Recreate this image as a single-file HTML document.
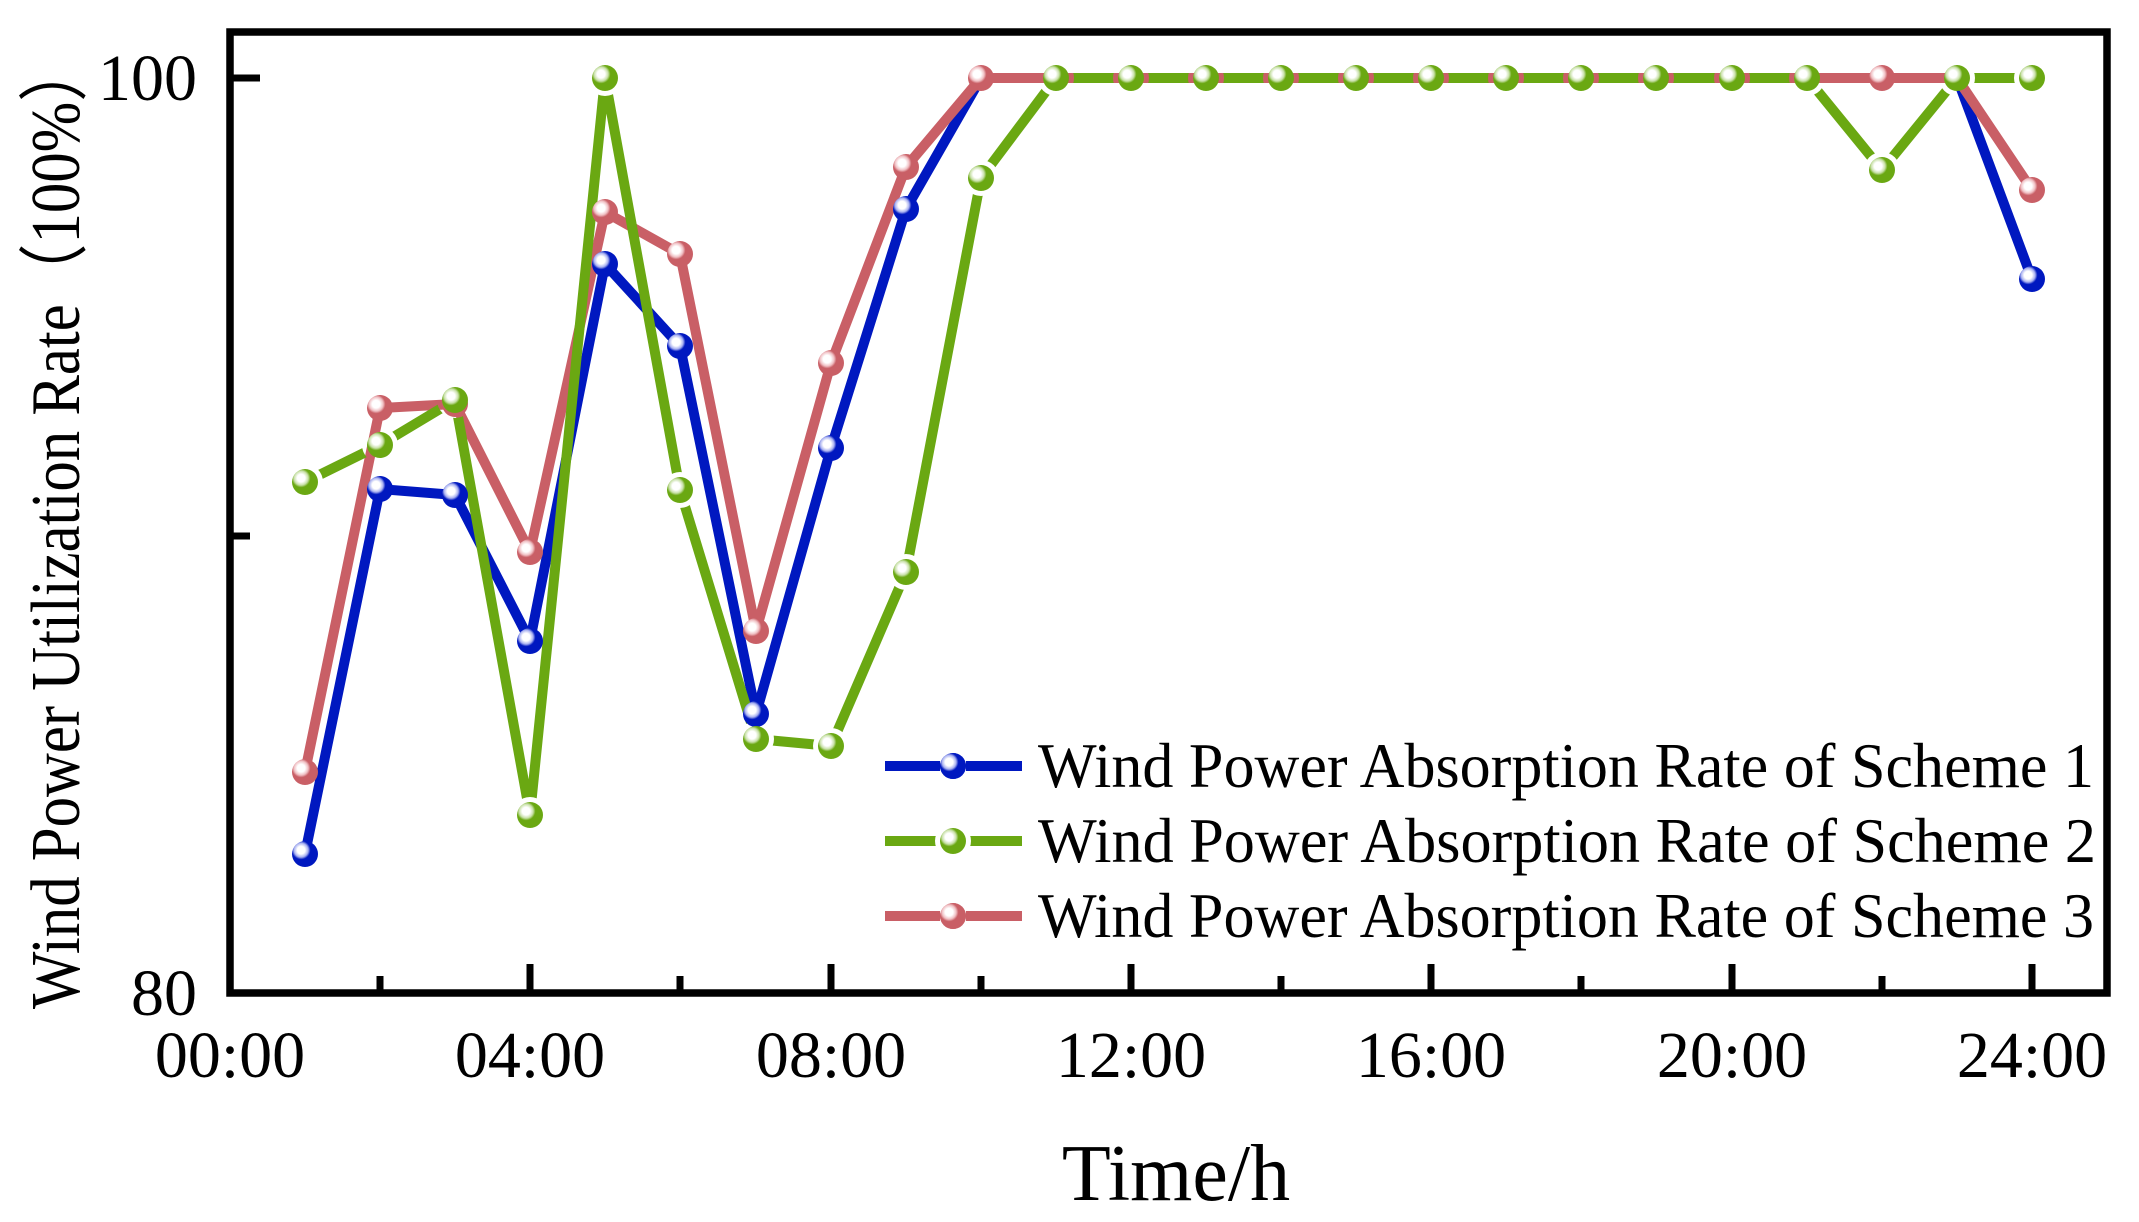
<!DOCTYPE html>
<html><head><meta charset="utf-8"><style>
html,body{margin:0;padding:0;background:#fff;}
svg{display:block;}
text{font-family:"Liberation Serif","Times New Roman",serif;fill:#000;}
</style></head><body>
<svg width="2139" height="1222" viewBox="0 0 2139 1222" xmlns="http://www.w3.org/2000/svg">
<defs>
<radialGradient id="hb" cx="0.35" cy="0.35" r="0.6"><stop offset="0" stop-color="#fff"/><stop offset="0.25" stop-color="#fff"/><stop offset="0.45" stop-color="#a8b0f0"/><stop offset="0.6" stop-color="#0018c0"/><stop offset="1" stop-color="#0018c0"/></radialGradient>
<radialGradient id="hg" cx="0.35" cy="0.35" r="0.6"><stop offset="0" stop-color="#fff"/><stop offset="0.25" stop-color="#fff"/><stop offset="0.45" stop-color="#c8e0a8"/><stop offset="0.6" stop-color="#6aa812"/><stop offset="1" stop-color="#6aa812"/></radialGradient>
<radialGradient id="hr" cx="0.35" cy="0.35" r="0.6"><stop offset="0" stop-color="#fff"/><stop offset="0.25" stop-color="#fff"/><stop offset="0.45" stop-color="#f0c0c4"/><stop offset="0.6" stop-color="#c95f66"/><stop offset="1" stop-color="#c95f66"/></radialGradient>
<mask id="gm" maskUnits="userSpaceOnUse" x="0" y="0" width="2139" height="1222">
<rect x="0" y="0" width="2139" height="1222" fill="#fff"/>
<g fill="#000">
<circle cx="305" cy="482" r="18"/><circle cx="380" cy="445" r="18"/><circle cx="455" cy="400" r="18"/><circle cx="530" cy="815" r="18"/><circle cx="605" cy="78" r="18"/><circle cx="680" cy="490" r="18"/><circle cx="756" cy="739" r="18"/><circle cx="831" cy="746" r="18"/><circle cx="906" cy="572" r="18"/><circle cx="981" cy="178" r="18"/><circle cx="1056" cy="78" r="18"/><circle cx="1131" cy="78" r="18"/><circle cx="1206" cy="78" r="18"/><circle cx="1281" cy="78" r="18"/><circle cx="1356" cy="78" r="18"/><circle cx="1431" cy="78" r="18"/><circle cx="1506" cy="78" r="18"/><circle cx="1581" cy="78" r="18"/><circle cx="1656" cy="78" r="18"/><circle cx="1732" cy="78" r="18"/><circle cx="1807" cy="78" r="18"/><circle cx="1882" cy="170" r="18"/><circle cx="1957" cy="78" r="18"/><circle cx="2032" cy="78" r="18"/>
<circle cx="953" cy="841" r="18"/>
</g></mask>
</defs>

<polyline fill="none" stroke="#0018c0" stroke-width="10" stroke-linejoin="round" points="305,854 380,489 455,495 530,641 605,264 680,346 756,714 831,448 906,209 981,78 1056,78 1131,78 1206,78 1281,78 1356,78 1431,78 1506,78 1581,78 1656,78 1732,78 1807,78 1882,78 1957,78 2032,279"/>
<polyline fill="none" stroke="#c95f66" stroke-width="10" stroke-linejoin="round" points="305,772 380,408 455,404 530,552 605,212 680,254 756,631 831,363 906,167 981,78 1056,78 1131,78 1206,78 1281,78 1356,78 1431,78 1506,78 1581,78 1656,78 1732,78 1807,78 1882,78 1957,78 2032,190"/>
<g mask="url(#gm)">
<polyline fill="none" stroke="#6aa812" stroke-width="10" stroke-linejoin="round" points="305,482 380,445 455,400 530,815 605,78 680,490 756,739 831,746 906,572 981,178 1056,78 1131,78 1206,78 1281,78 1356,78 1431,78 1506,78 1581,78 1656,78 1732,78 1807,78 1882,170 1957,78 2032,78"/>
<line x1="885" y1="841" x2="1022" y2="841" stroke="#6aa812" stroke-width="10"/>
</g>

<g fill="url(#hb)">
<circle cx="305" cy="854" r="13"/><circle cx="380" cy="489" r="13"/><circle cx="455" cy="495" r="13"/><circle cx="530" cy="641" r="13"/><circle cx="605" cy="264" r="13"/><circle cx="680" cy="346" r="13"/><circle cx="756" cy="714" r="13"/><circle cx="831" cy="448" r="13"/><circle cx="906" cy="209" r="13"/><circle cx="2032" cy="279" r="13"/>
<circle cx="953" cy="766" r="13"/>
</g>
<g fill="url(#hr)">
<circle cx="305" cy="772" r="13"/><circle cx="380" cy="408" r="13"/><circle cx="455" cy="404" r="13"/><circle cx="530" cy="552" r="13"/><circle cx="605" cy="212" r="13"/><circle cx="680" cy="254" r="13"/><circle cx="756" cy="631" r="13"/><circle cx="831" cy="363" r="13"/><circle cx="906" cy="167" r="13"/><circle cx="981" cy="78" r="13"/><circle cx="1882" cy="78" r="13"/><circle cx="2032" cy="190" r="13"/>
<circle cx="953" cy="916" r="13"/>
</g>
<g fill="url(#hg)">
<circle cx="305" cy="482" r="13"/><circle cx="380" cy="445" r="13"/><circle cx="455" cy="400" r="13"/><circle cx="530" cy="815" r="13"/><circle cx="605" cy="78" r="13"/><circle cx="680" cy="490" r="13"/><circle cx="756" cy="739" r="13"/><circle cx="831" cy="746" r="13"/><circle cx="906" cy="572" r="13"/><circle cx="981" cy="178" r="13"/><circle cx="1056" cy="78" r="13"/><circle cx="1131" cy="78" r="13"/><circle cx="1206" cy="78" r="13"/><circle cx="1281" cy="78" r="13"/><circle cx="1356" cy="78" r="13"/><circle cx="1431" cy="78" r="13"/><circle cx="1506" cy="78" r="13"/><circle cx="1581" cy="78" r="13"/><circle cx="1656" cy="78" r="13"/><circle cx="1732" cy="78" r="13"/><circle cx="1807" cy="78" r="13"/><circle cx="1882" cy="170" r="13"/><circle cx="1957" cy="78" r="13"/><circle cx="2032" cy="78" r="13"/>
<circle cx="953" cy="841" r="13"/>
</g>

<line x1="885" y1="766" x2="940" y2="766" stroke="#0018c0" stroke-width="10"/>
<line x1="966" y1="766" x2="1022" y2="766" stroke="#0018c0" stroke-width="10"/>
<line x1="885" y1="916" x2="940" y2="916" stroke="#c95f66" stroke-width="10"/>
<line x1="966" y1="916" x2="1022" y2="916" stroke="#c95f66" stroke-width="10"/>
<circle cx="953" cy="766" r="13" fill="url(#hb)"/>
<circle cx="953" cy="916" r="13" fill="url(#hr)"/>

<text x="1038" y="787" font-size="64" textLength="1056" lengthAdjust="spacingAndGlyphs">Wind Power Absorption Rate of Scheme 1</text>
<text x="1038" y="862" font-size="64" textLength="1058" lengthAdjust="spacingAndGlyphs">Wind Power Absorption Rate of Scheme 2</text>
<text x="1038" y="937" font-size="64" textLength="1056" lengthAdjust="spacingAndGlyphs">Wind Power Absorption Rate of Scheme 3</text>

<rect x="230" y="32" width="1877" height="961" fill="none" stroke="#000" stroke-width="7.5"/>
<line x1="230" y1="78" x2="260" y2="78" stroke="#000" stroke-width="7"/>
<line x1="230" y1="536" x2="250" y2="536" stroke="#000" stroke-width="7"/>
<g stroke="#000" stroke-width="7">
<line x1="380" y1="993" x2="380" y2="976"/>
<line x1="530" y1="993" x2="530" y2="964"/>
<line x1="680" y1="993" x2="680" y2="976"/>
<line x1="831" y1="993" x2="831" y2="964"/>
<line x1="981" y1="993" x2="981" y2="976"/>
<line x1="1131" y1="993" x2="1131" y2="964"/>
<line x1="1281" y1="993" x2="1281" y2="976"/>
<line x1="1431" y1="993" x2="1431" y2="964"/>
<line x1="1581" y1="993" x2="1581" y2="976"/>
<line x1="1732" y1="993" x2="1732" y2="964"/>
<line x1="1882" y1="993" x2="1882" y2="976"/>
<line x1="2032" y1="993" x2="2032" y2="964"/>
</g>

<g font-size="66" text-anchor="middle">
<text x="230" y="1077">00:00</text>
<text x="530" y="1077">04:00</text>
<text x="831" y="1077">08:00</text>
<text x="1131" y="1077">12:00</text>
<text x="1431" y="1077">16:00</text>
<text x="1732" y="1077">20:00</text>
<text x="2032" y="1077">24:00</text>
</g>
<g font-size="66" text-anchor="end">
<text x="197" y="100">100</text>
<text x="197" y="1015">80</text>
</g>

<text x="1176" y="1200" font-size="80" text-anchor="middle">Time/h</text>
<text transform="translate(79,525) rotate(-90)" font-size="70" text-anchor="middle" textLength="968" lengthAdjust="spacingAndGlyphs">Wind Power Utilization Rate（100%）</text>
</svg>
</body></html>
